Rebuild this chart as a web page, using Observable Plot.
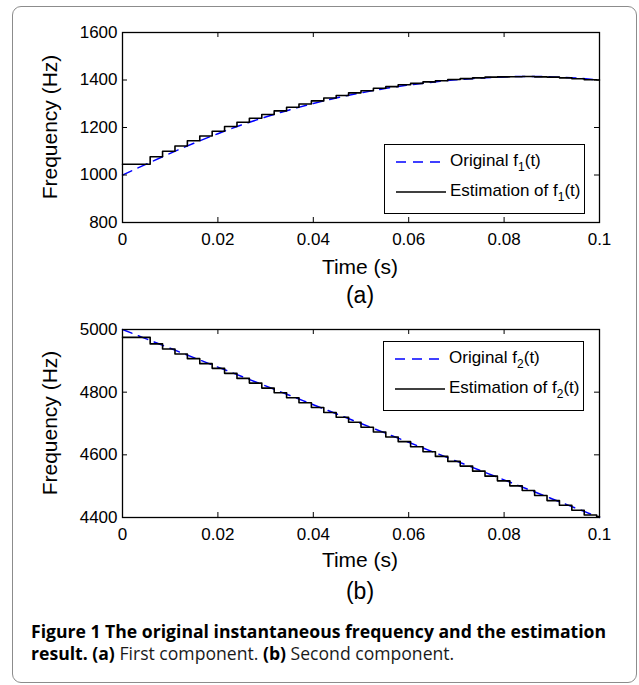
<!DOCTYPE html>
<html>
<head>
<meta charset="utf-8">
<script src="https://cdn.jsdelivr.net/npm/d3@7"></script>
<script src="https://cdn.jsdelivr.net/npm/@observablehq/plot@0.6"></script>
<style>
  body { margin: 0; background: #fff; width: 639px; height: 685px; position: relative; overflow: hidden;
         font-family: "Liberation Sans", Arial, Helvetica, sans-serif; color: #000; }
  #frame { position: absolute; left: 12px; top: 6px; width: 625px; height: 677px; box-sizing: border-box;
           border: 1.5px solid #8c8c8c; border-radius: 9px; }
  .plotbox { position: absolute; left: 0; }
  .lbl { position: absolute; white-space: nowrap; transform: translate(-50%, -50%); line-height: normal; }
  .ylbl { position: absolute; white-space: nowrap; transform: translate(-50%, -50%) rotate(-90deg); font-size: 21px; }
  .xlbl { font-size: 21px; }
  .panel { font-size: 23px; }
  .legend { position: absolute; box-sizing: border-box; border: 1px solid #000; background: #fff; width: 201px; height: 70px; }
  .lrow { position: absolute; left: 0; height: 20px; width: 200px; }
  .lrow svg { position: absolute; left: 10px; top: 0; }
  .lrow span.t { position: absolute; left: 65px; top: 0; font-size: 17px; line-height: 20px; white-space: nowrap; }
  .sub { font-size: 12px; position: relative; top: 5px; }
  #caption { position: absolute; left: 31px; top: 620px; font-family: "Open Sans", "Noto Sans", sans-serif; font-size: 17.6px;
             line-height: 22px; color: #1a1a1a; white-space: nowrap; }
  #caption b { font-weight: 700; color: #000; }
</style>
</head>
<body>
<div id="frame"></div>
<div id="p1" class="plotbox" style="top:0px"></div>
<div id="p2" class="plotbox" style="top:300px"></div>

<div class="ylbl" style="left:50px; top:127px">Frequency (Hz)</div>
<div class="lbl xlbl" style="left:360px; top:267px">Time (s)</div>
<div class="lbl panel" style="left:360px; top:295px">(a)</div>

<div class="ylbl" style="left:50px; top:423px">Frequency (Hz)</div>
<div class="lbl xlbl" style="left:360px; top:560px">Time (s)</div>
<div class="lbl panel" style="left:360px; top:591px">(b)</div>

<div class="legend" style="left:384px; top:144px;">
  <div class="lrow" style="top:6px">
    <svg width="52" height="20"><line x1="1" y1="11" x2="51" y2="11" stroke="#0000ff" stroke-width="1.5" stroke-dasharray="10,7"/></svg>
    <span class="t">Original f<span class="sub">1</span>(t)</span>
  </div>
  <div class="lrow" style="top:36px">
    <svg width="52" height="20"><line x1="1" y1="11" x2="51" y2="11" stroke="#000" stroke-width="1.5"/></svg>
    <span class="t">Estimation of f<span class="sub">1</span>(t)</span>
  </div>
</div>

<div class="legend" style="left:383px; top:341px;">
  <div class="lrow" style="top:6px">
    <svg width="52" height="20"><line x1="1" y1="11" x2="51" y2="11" stroke="#0000ff" stroke-width="1.5" stroke-dasharray="10,7"/></svg>
    <span class="t">Original f<span class="sub">2</span>(t)</span>
  </div>
  <div class="lrow" style="top:36px">
    <svg width="52" height="20"><line x1="1" y1="11" x2="51" y2="11" stroke="#000" stroke-width="1.5"/></svg>
    <span class="t">Estimation of f<span class="sub">2</span>(t)</span>
  </div>
</div>

<div id="caption">
  <div><b>Figure 1 The original instantaneous frequency and the estimation</b></div>
  <div><b>result. (a)</b> First component. <b>(b)</b> Second component.</div>
</div>

<script>
// ---- tick values / labels ----
const xTicks = [0, 0.02, 0.04, 0.06, 0.08, 0.1];
const xTickLabels = ["0", "0.02", "0.04", "0.06", "0.08", "0.1"];
const yTicks1 = [800, 1000, 1200, 1400, 1600];
const yTicks2 = [4400, 4600, 4800, 5000];

// ---- original f1(t), read every 5 ms ----
const tOrig1 = [0, 0.005, 0.01, 0.015, 0.02, 0.025, 0.03, 0.035, 0.04, 0.045, 0.05,
                0.055, 0.06, 0.065, 0.07, 0.075, 0.08, 0.085, 0.09, 0.095, 0.1];
const f1Orig = [1000, 1046, 1091, 1134, 1174, 1211, 1244, 1274, 1301, 1325, 1346,
                1364, 1379, 1391, 1401, 1408, 1413, 1415, 1413, 1408, 1400];

// ---- original f2(t), read every 10 ms ----
const tOrig2 = [0, 0.01, 0.02, 0.03, 0.04, 0.05, 0.06, 0.07, 0.08, 0.09, 0.1];
const f2Orig = [5000, 4940, 4880, 4820, 4760, 4700, 4640, 4580, 4520, 4460, 4400];

// ---- estimated (piecewise constant) frequencies: step start times ----
const tStep = [0, 0.0058, 0.0084, 0.0110, 0.0136, 0.0162, 0.0188, 0.0214, 0.0240, 0.0266,
               0.0292, 0.0318, 0.0344, 0.0370, 0.0396, 0.0422, 0.0448, 0.0474, 0.0500, 0.0526,
               0.0552, 0.0578, 0.0604, 0.0630, 0.0656, 0.0682, 0.0708, 0.0734, 0.0760, 0.0786,
               0.0812, 0.0838, 0.0864, 0.0890, 0.0916, 0.0942, 0.0968, 0.0994, 0.1000];
const f1Est = [1045, 1077, 1100, 1122, 1144, 1164, 1184, 1204, 1222, 1239,
               1255, 1270, 1285, 1299, 1312, 1324, 1335, 1346, 1355, 1365,
               1372, 1380, 1386, 1392, 1397, 1402, 1406, 1409, 1412, 1413,
               1414, 1415, 1413, 1412, 1409, 1405, 1401, 1400, 1400];
const f2Est = [4975, 4954, 4938, 4922, 4907, 4891, 4876, 4860, 4844, 4829,
               4813, 4798, 4782, 4766, 4751, 4735, 4720, 4704, 4688, 4673,
               4657, 4642, 4626, 4610, 4595, 4579, 4564, 4548, 4532, 4517,
               4501, 4486, 4470, 4454, 4439, 4423, 4408, 4403, 4403];

const zip = (ts, vs) => ts.map((t, i) => ({t, f: vs[i]}));

function makePlot({orig, est, yDomain, yTicks, height, marginTop, marginBottom}) {
  const marginLeft = 122, marginRight = 40, width = 639;
  const plotW = width - marginLeft - marginRight;
  const plotH = height - marginTop - marginBottom;
  const tl = 5;
  return Plot.plot({
    width, height, marginTop, marginBottom, marginLeft, marginRight,
    style: {fontFamily: '"Liberation Sans", Arial, sans-serif', fontSize: "17px", color: "#000", background: "transparent", overflow: "visible"},
    x: {domain: [0, 0.1]},
    y: {domain: yDomain},
    marks: [
      Plot.line(orig, {x: "t", y: "f", stroke: "#0000ff", strokeWidth: 1.5, strokeDasharray: "10,7", curve: "monotone-x"}),
      Plot.line(est, {x: "t", y: "f", stroke: "#000", strokeWidth: 1.6, curve: "step-after"}),
      Plot.tickX(xTicks, {x: d => d, insetTop: plotH - tl, stroke: "#000"}),
      Plot.tickX(xTicks, {x: d => d, insetBottom: plotH - tl, stroke: "#000"}),
      Plot.tickY(yTicks, {y: d => d, insetRight: plotW - tl, stroke: "#000"}),
      Plot.tickY(yTicks, {y: d => d, insetLeft: plotW - tl, stroke: "#000"}),
      Plot.axisX(xTicks, {tickSize: 0, tickPadding: 10, label: null, fontSize: 17,
                          tickFormat: d => xTickLabels[xTicks.indexOf(d)]}),
      Plot.axisY(yTicks, {tickSize: 0, tickPadding: 5, label: null, fontSize: 17,
                          tickFormat: d => String(d)}),
      Plot.frame({stroke: "#000", strokeWidth: 1.3})
    ]
  });
}

document.getElementById("p1").appendChild(makePlot({
  orig: zip(tOrig1, f1Orig), est: zip(tStep, f1Est),
  yDomain: [800, 1600], yTicks: yTicks1, height: 282, marginTop: 32, marginBottom: 60
}));
document.getElementById("p2").appendChild(makePlot({
  orig: zip(tOrig2, f2Orig), est: zip(tStep, f2Est),
  yDomain: [4400, 5000], yTicks: yTicks2, height: 277, marginTop: 29, marginBottom: 60
}));
</script>
</body>
</html>
